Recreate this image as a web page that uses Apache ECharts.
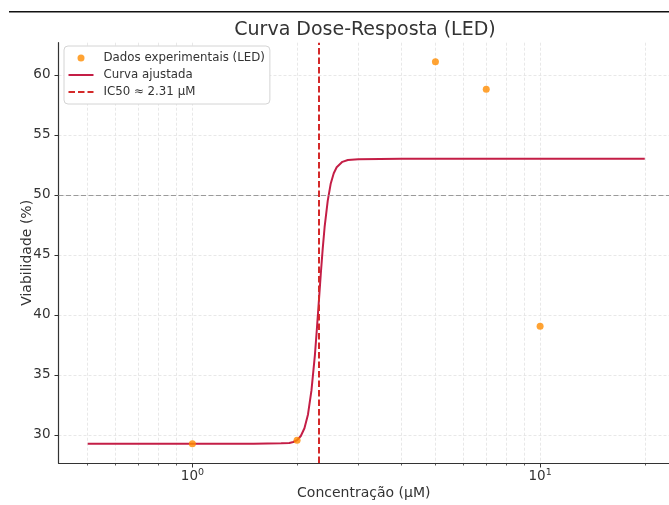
<!DOCTYPE html>
<html>
<head>
<meta charset="utf-8">
<script src="https://cdn.jsdelivr.net/npm/echarts@6/dist/echarts.min.js"></script>
<style>html,body{margin:0;padding:0;background:#fff}#c{width:669px;height:505px}</style>
</head>
<body>
<div id="c"></div>
<script>
// ---- data ----
const pointX = [1, 2, 5, 7, 10];
const pointY = [29.25, 29.55, 61.1, 58.8, 39.05];
const curveX = [0.5, 1, 1.5, 1.8, 1.9, 1.95, 2.0, 2.05, 2.1, 2.15, 2.2, 2.25, 2.28, 2.31, 2.34, 2.37, 2.4, 2.45, 2.5, 2.55, 2.6, 2.7, 2.8, 3.0, 4, 10, 20];
const curveY = [29.25, 29.25, 29.26, 29.3, 29.32, 29.4, 29.55, 29.9, 30.55, 31.7, 33.7, 36.6, 38.8, 41.1, 43.4, 45.5, 47.3, 49.5, 50.95, 51.8, 52.3, 52.75, 52.9, 52.97, 53.0, 53.0, 53.0];
const ic50 = 2.31;
const refY = 50;
const xMajorTicks = [1, 10];
const xAllTicks = [0.5, 0.6, 0.7, 0.8, 0.9, 1, 2, 3, 4, 5, 6, 7, 8, 9, 10, 20];
const yTicks = [30, 35, 40, 45, 50, 55, 60];
const seriesNames = ['Dados experimentais (LED)', 'Curva ajustada', 'IC50 ≈ 2.31 µM'];
const titleText = 'Curva Dose-Resposta (LED)';
const xName = 'Concentração (µM)';
const yName = 'Viabilidade (%)';

const FONT = 'DejaVu Sans';
const XMIN = 0.412, XMAX = 23.48;
const chart = echarts.init(document.getElementById('c'), null, {renderer: 'canvas'});
const sup = {0: '0', 1: '1'};
chart.setOption({
  animation: false,
  backgroundColor: '#fff',
  textStyle: {fontFamily: FONT},
  graphic: [
    {type: 'line', shape: {x1: 9, y1: 11.7, x2: 669, y2: 11.7}, style: {stroke: '#111', lineWidth: 1.5}, silent: true},
    {type: 'text', x: 365, y: 30, style: {text: titleText, fontFamily: FONT, fontSize: 19, fill: '#333', textAlign: 'center', textVerticalAlign: 'middle'}}
  ],
  grid: {left: 58.5, right: 0, top: 42.7, bottom: 39.3, containLabel: false},
  legend: {
    orient: 'vertical', left: 64, top: 46,
    backgroundColor: '#fff', borderColor: '#d4d4d4', borderWidth: 1, borderRadius: 4,
    padding: [6, 5, 6, 3.5], itemGap: 5, itemWidth: 25, itemHeight: 7,
    textStyle: {fontFamily: FONT, fontSize: 11.8, color: '#333', padding: [0, 0, 0, 5]},
    data: [
      {name: seriesNames[0]},
      {name: seriesNames[1], itemStyle: {opacity: 0}},
      {name: seriesNames[2], itemStyle: {opacity: 0}}
    ]
  },
  xAxis: [{
    type: 'log', logBase: 10, min: XMIN, max: XMAX, position: 'bottom',
    name: xName, nameLocation: 'middle', nameGap: 23, nameMoveOverlap: false,
    nameTextStyle: {fontFamily: FONT, fontSize: 14, color: '#333'},
    axisLine: {show: true, lineStyle: {color: '#333', width: 1.2}},
    axisTick: {show: true, inside: false, length: 2.5, customValues: xAllTicks, lineStyle: {color: '#333', width: 0.8}},
    axisLabel: {
      customValues: xMajorTicks, margin: 5, color: '#333',
      formatter: v => '{b|10}{s|' + sup[Math.round(Math.log10(v))] + '}',
      rich: {
        b: {fontSize: 13.5, fontFamily: FONT, color: '#333', lineHeight: 17},
        s: {fontSize: 9.5, fontFamily: FONT, color: '#333', verticalAlign: 'top', lineHeight: 11}
      }
    },
    splitLine: {show: true, lineStyle: {color: '#e2e2e2', width: 0.8, type: [3, 2]}}
  }, {
    type: 'log', logBase: 10, min: XMIN, max: XMAX, position: 'bottom', offset: 0,
    axisLine: {show: false},
    axisTick: {show: true, inside: false, length: 4.5, customValues: xMajorTicks, lineStyle: {color: '#333', width: 1}},
    axisLabel: {show: false},
    splitLine: {show: false}
  }],
  yAxis: {
    type: 'value', min: 27.65, max: 62.68,
    name: yName, nameLocation: 'middle', nameGap: 24, nameMoveOverlap: false,
    nameTextStyle: {fontFamily: FONT, fontSize: 14, color: '#333'},
    axisLine: {show: true, lineStyle: {color: '#333', width: 1.2}},
    axisTick: {show: true, length: 4, customValues: yTicks, lineStyle: {color: '#333'}},
    axisLabel: {customValues: yTicks, margin: 8, color: '#333', fontSize: 13.5, fontFamily: FONT},
    splitLine: {show: true, lineStyle: {color: '#e2e2e2', width: 0.8, type: [3, 2]}}
  },
  series: [
    {
      name: seriesNames[0], type: 'scatter', symbol: 'circle', symbolSize: 7,
      itemStyle: {color: '#ff8c00'}, z: 5,
      data: pointX.map((x, i) => [x, pointY[i]])
    },
    {
      name: seriesNames[1], type: 'line', symbol: 'none', smooth: false,
      lineStyle: {color: '#c41e46', width: 2}, itemStyle: {color: '#c41e46'}, z: 3,
      data: curveX.map((x, i) => [x, curveY[i]]),
      markLine: {
        silent: true, symbol: 'none', label: {show: false},
        lineStyle: {color: '#9a9a9a', width: 1, type: [5, 2.5]},
        data: [{yAxis: refY}]
      }
    },
    {
      name: seriesNames[2], type: 'line', symbol: 'none', data: [],
      lineStyle: {color: '#d42a2a', width: 2, type: [6.5, 3]}, itemStyle: {color: '#d42a2a'}, z: 4,
      markLine: {
        silent: true, symbol: 'none', label: {show: false},
        lineStyle: {color: '#d42a2a', width: 2, type: [6.5, 3]},
        data: [{xAxis: ic50}]
      }
    }
  ]
});
</script>
</body>
</html>
